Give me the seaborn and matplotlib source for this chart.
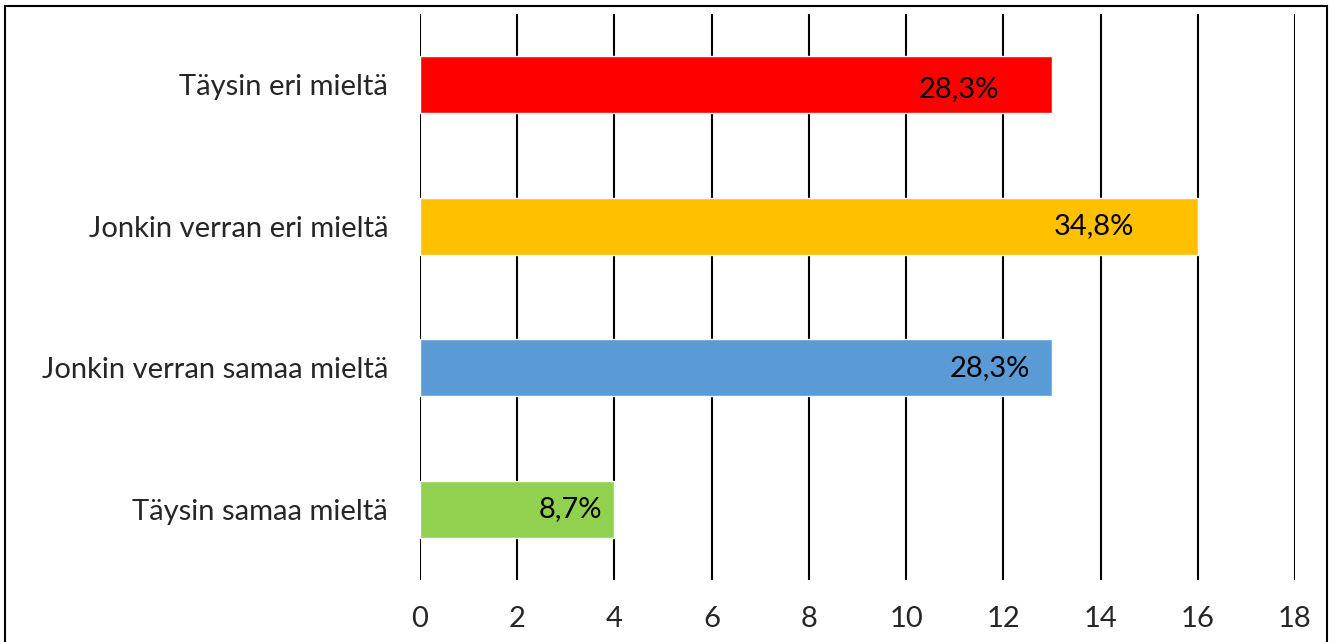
import matplotlib
matplotlib.use("Agg")
import matplotlib.pyplot as plt
import matplotlib.patches as mpatches
import seaborn as sns
import pandas as pd

categories = ["Täysin eri mieltä", "Jonkin verran eri mieltä",
              "Jonkin verran samaa mieltä", "Täysin samaa mieltä"]
counts = [13, 16, 13, 4]
pct_labels = ["28,3%", "34,8%", "28,3%", "8,7%"]
bar_colors = ["#FF0000", "#FFC000", "#5B9BD5", "#92D050"]
x_ticks = [0, 2, 4, 6, 8, 10, 12, 14, 16, 18]
# label inset from the bar end, in points
label_inset = [38, 46, 16, 9]

df = pd.DataFrame({"category": categories, "count": counts})

sns.set_style("white")
plt.rcParams["font.family"] = ["Lato", "DejaVu Sans"]

W, H = 1335, 642
fig = plt.figure(figsize=(W / 100, H / 100), dpi=100)
ax = fig.add_axes([420 / W, 1 - 580 / H, (1295 - 420) / W, (580 - 14) / H])

sns.barplot(data=df, y="category", x="count", hue="category",
            palette=bar_colors, order=categories, hue_order=categories,
            width=0.4, legend=False, ax=ax, saturation=1)

ax.set_xlim(0, 18)
ax.set_ylim(3.5, -0.5)
ax.set_xticks(x_ticks)
ax.set_xticklabels([str(t) for t in x_ticks])
ax.xaxis.grid(True, color="black", linewidth=1.5)
ax.yaxis.grid(False)
ax.set_axisbelow(True)
for s in ax.spines.values():
    s.set_visible(False)
ax.tick_params(axis="x", length=0, pad=19, labelsize=21)
ax.tick_params(axis="y", length=0, pad=23, labelsize=21)
ax.set_xlabel("")
ax.set_ylabel("")

for i, (v, lab) in enumerate(zip(counts, pct_labels)):
    ax.annotate(lab, xy=(v, i), xytext=(-label_inset[i], -3 if i == 0 else 0),
                textcoords="offset points", ha="right", va="center",
                fontsize=21, color="black")

# outer chart frame
fig.patches.append(mpatches.Rectangle((5 / W, -0.1), (1327 - 5) / W, 1.1 - 6 / H,
                                      transform=fig.transFigure, fill=False,
                                      edgecolor="black", linewidth=1.5))

fig.savefig("out.png", dpi=100)
